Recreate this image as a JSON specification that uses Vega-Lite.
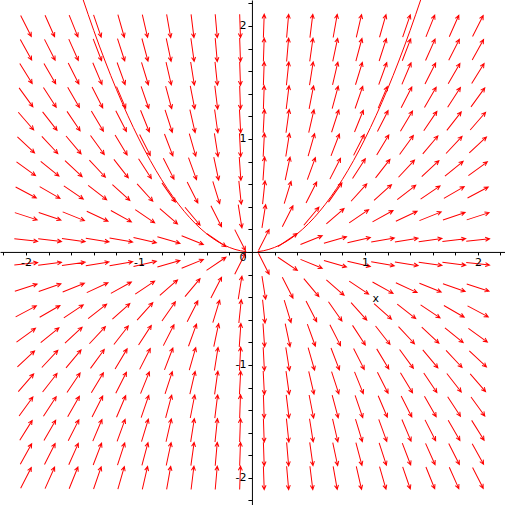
{
"$schema": "https://vega.github.io/schema/vega-lite/v6.json",
"width": 505, "height": 505, "autosize": "none", "padding": 0,
"background": "white",
"config": {"view": {"stroke": null}},
"datasets": {
"curves": [
{"branch":"L","x":-1.5,"y":2.25},{"branch":"L","x":-1.4,"y":1.96},{"branch":"L","x":-1.3,"y":1.69},{"branch":"L","x":-1.2,"y":1.44},{"branch":"L","x":-1.1,"y":1.21},{"branch":"L","x":-1.0,"y":1.0},{"branch":"L","x":-0.9,"y":0.81},{"branch":"L","x":-0.8,"y":0.64},{"branch":"L","x":-0.7,"y":0.49},{"branch":"L","x":-0.6,"y":0.36},{"branch":"L","x":-0.5,"y":0.25},{"branch":"L","x":-0.4,"y":0.16},{"branch":"L","x":-0.3,"y":0.09},{"branch":"L","x":-0.2,"y":0.04},{"branch":"L","x":-0.1,"y":0.01},{"branch":"L","x":-0.05,"y":0.0025},
{"branch":"R","x":0.05,"y":0.0025},{"branch":"R","x":0.1,"y":0.01},{"branch":"R","x":0.2,"y":0.04},{"branch":"R","x":0.3,"y":0.09},{"branch":"R","x":0.4,"y":0.16},{"branch":"R","x":0.5,"y":0.25},{"branch":"R","x":0.6,"y":0.36},{"branch":"R","x":0.7,"y":0.49},{"branch":"R","x":0.8,"y":0.64},{"branch":"R","x":0.9,"y":0.81},{"branch":"R","x":1.0,"y":1.0},{"branch":"R","x":1.1,"y":1.21},{"branch":"R","x":1.2,"y":1.44},{"branch":"R","x":1.3,"y":1.69},{"branch":"R","x":1.4,"y":1.96},{"branch":"R","x":1.5,"y":2.25}
],
"arrows": [
{"x":-2,"y":-2,"a":63},{"x":-2,"y":-1.789,"a":61},{"x":-2,"y":-1.579,"a":58},{"x":-2,"y":-1.368,"a":54},{"x":-2,"y":-1.158,"a":49},{"x":-2,"y":-0.947,"a":43},{"x":-2,"y":-0.737,"a":36},{"x":-2,"y":-0.526,"a":28},{"x":-2,"y":-0.316,"a":18},{"x":-2,"y":-0.105,"a":6},{"x":-2,"y":0.105,"a":-6},{"x":-2,"y":0.316,"a":-18},{"x":-2,"y":0.526,"a":-28},{"x":-2,"y":0.737,"a":-36},{"x":-2,"y":0.947,"a":-43},{"x":-2,"y":1.158,"a":-49},{"x":-2,"y":1.368,"a":-54},{"x":-2,"y":1.579,"a":-58},{"x":-2,"y":1.789,"a":-61},{"x":-2,"y":2,"a":-63},
{"x":-1.789,"y":-2,"a":66},{"x":-1.789,"y":-1.789,"a":63},{"x":-1.789,"y":-1.579,"a":60},{"x":-1.789,"y":-1.368,"a":57},{"x":-1.789,"y":-1.158,"a":52},{"x":-1.789,"y":-0.947,"a":47},{"x":-1.789,"y":-0.737,"a":39},{"x":-1.789,"y":-0.526,"a":30},{"x":-1.789,"y":-0.316,"a":19},{"x":-1.789,"y":-0.105,"a":7},{"x":-1.789,"y":0.105,"a":-7},{"x":-1.789,"y":0.316,"a":-19},{"x":-1.789,"y":0.526,"a":-30},{"x":-1.789,"y":0.737,"a":-39},{"x":-1.789,"y":0.947,"a":-47},{"x":-1.789,"y":1.158,"a":-52},{"x":-1.789,"y":1.368,"a":-57},{"x":-1.789,"y":1.579,"a":-60},{"x":-1.789,"y":1.789,"a":-63},{"x":-1.789,"y":2,"a":-66},
{"x":-1.579,"y":-2,"a":68},{"x":-1.579,"y":-1.789,"a":66},{"x":-1.579,"y":-1.579,"a":63},{"x":-1.579,"y":-1.368,"a":60},{"x":-1.579,"y":-1.158,"a":56},{"x":-1.579,"y":-0.947,"a":50},{"x":-1.579,"y":-0.737,"a":43},{"x":-1.579,"y":-0.526,"a":34},{"x":-1.579,"y":-0.316,"a":22},{"x":-1.579,"y":-0.105,"a":8},{"x":-1.579,"y":0.105,"a":-8},{"x":-1.579,"y":0.316,"a":-22},{"x":-1.579,"y":0.526,"a":-34},{"x":-1.579,"y":0.737,"a":-43},{"x":-1.579,"y":0.947,"a":-50},{"x":-1.579,"y":1.158,"a":-56},{"x":-1.579,"y":1.368,"a":-60},{"x":-1.579,"y":1.579,"a":-63},{"x":-1.579,"y":1.789,"a":-66},{"x":-1.579,"y":2,"a":-68},
{"x":-1.368,"y":-2,"a":71},{"x":-1.368,"y":-1.789,"a":69},{"x":-1.368,"y":-1.579,"a":67},{"x":-1.368,"y":-1.368,"a":63},{"x":-1.368,"y":-1.158,"a":59},{"x":-1.368,"y":-0.947,"a":54},{"x":-1.368,"y":-0.737,"a":47},{"x":-1.368,"y":-0.526,"a":38},{"x":-1.368,"y":-0.316,"a":25},{"x":-1.368,"y":-0.105,"a":9},{"x":-1.368,"y":0.105,"a":-9},{"x":-1.368,"y":0.316,"a":-25},{"x":-1.368,"y":0.526,"a":-38},{"x":-1.368,"y":0.737,"a":-47},{"x":-1.368,"y":0.947,"a":-54},{"x":-1.368,"y":1.158,"a":-59},{"x":-1.368,"y":1.368,"a":-63},{"x":-1.368,"y":1.579,"a":-67},{"x":-1.368,"y":1.789,"a":-69},{"x":-1.368,"y":2,"a":-71},
{"x":-1.158,"y":-2,"a":74},{"x":-1.158,"y":-1.789,"a":72},{"x":-1.158,"y":-1.579,"a":70},{"x":-1.158,"y":-1.368,"a":67},{"x":-1.158,"y":-1.158,"a":63},{"x":-1.158,"y":-0.947,"a":59},{"x":-1.158,"y":-0.737,"a":52},{"x":-1.158,"y":-0.526,"a":42},{"x":-1.158,"y":-0.316,"a":29},{"x":-1.158,"y":-0.105,"a":10},{"x":-1.158,"y":0.105,"a":-10},{"x":-1.158,"y":0.316,"a":-29},{"x":-1.158,"y":0.526,"a":-42},{"x":-1.158,"y":0.737,"a":-52},{"x":-1.158,"y":0.947,"a":-59},{"x":-1.158,"y":1.158,"a":-63},{"x":-1.158,"y":1.368,"a":-67},{"x":-1.158,"y":1.579,"a":-70},{"x":-1.158,"y":1.789,"a":-72},{"x":-1.158,"y":2,"a":-74},
{"x":-0.947,"y":-2,"a":77},{"x":-0.947,"y":-1.789,"a":75},{"x":-0.947,"y":-1.579,"a":73},{"x":-0.947,"y":-1.368,"a":71},{"x":-0.947,"y":-1.158,"a":68},{"x":-0.947,"y":-0.947,"a":63},{"x":-0.947,"y":-0.737,"a":57},{"x":-0.947,"y":-0.526,"a":48},{"x":-0.947,"y":-0.316,"a":34},{"x":-0.947,"y":-0.105,"a":13},{"x":-0.947,"y":0.105,"a":-13},{"x":-0.947,"y":0.316,"a":-34},{"x":-0.947,"y":0.526,"a":-48},{"x":-0.947,"y":0.737,"a":-57},{"x":-0.947,"y":0.947,"a":-63},{"x":-0.947,"y":1.158,"a":-68},{"x":-0.947,"y":1.368,"a":-71},{"x":-0.947,"y":1.579,"a":-73},{"x":-0.947,"y":1.789,"a":-75},{"x":-0.947,"y":2,"a":-77},
{"x":-0.737,"y":-2,"a":80},{"x":-0.737,"y":-1.789,"a":78},{"x":-0.737,"y":-1.579,"a":77},{"x":-0.737,"y":-1.368,"a":75},{"x":-0.737,"y":-1.158,"a":72},{"x":-0.737,"y":-0.947,"a":69},{"x":-0.737,"y":-0.737,"a":63},{"x":-0.737,"y":-0.526,"a":55},{"x":-0.737,"y":-0.316,"a":41},{"x":-0.737,"y":-0.105,"a":16},{"x":-0.737,"y":0.105,"a":-16},{"x":-0.737,"y":0.316,"a":-41},{"x":-0.737,"y":0.526,"a":-55},{"x":-0.737,"y":0.737,"a":-63},{"x":-0.737,"y":0.947,"a":-69},{"x":-0.737,"y":1.158,"a":-72},{"x":-0.737,"y":1.368,"a":-75},{"x":-0.737,"y":1.579,"a":-77},{"x":-0.737,"y":1.789,"a":-78},{"x":-0.737,"y":2,"a":-80},
{"x":-0.526,"y":-2,"a":83},{"x":-0.526,"y":-1.789,"a":82},{"x":-0.526,"y":-1.579,"a":81},{"x":-0.526,"y":-1.368,"a":79},{"x":-0.526,"y":-1.158,"a":77},{"x":-0.526,"y":-0.947,"a":74},{"x":-0.526,"y":-0.737,"a":70},{"x":-0.526,"y":-0.526,"a":63},{"x":-0.526,"y":-0.316,"a":50},{"x":-0.526,"y":-0.105,"a":22},{"x":-0.526,"y":0.105,"a":-22},{"x":-0.526,"y":0.316,"a":-50},{"x":-0.526,"y":0.526,"a":-63},{"x":-0.526,"y":0.737,"a":-70},{"x":-0.526,"y":0.947,"a":-74},{"x":-0.526,"y":1.158,"a":-77},{"x":-0.526,"y":1.368,"a":-79},{"x":-0.526,"y":1.579,"a":-81},{"x":-0.526,"y":1.789,"a":-82},{"x":-0.526,"y":2,"a":-83},
{"x":-0.316,"y":-2,"a":85},{"x":-0.316,"y":-1.789,"a":85},{"x":-0.316,"y":-1.579,"a":84},{"x":-0.316,"y":-1.368,"a":83},{"x":-0.316,"y":-1.158,"a":82},{"x":-0.316,"y":-0.947,"a":81},{"x":-0.316,"y":-0.737,"a":78},{"x":-0.316,"y":-0.526,"a":73},{"x":-0.316,"y":-0.316,"a":63},{"x":-0.316,"y":-0.105,"a":34},{"x":-0.316,"y":0.105,"a":-34},{"x":-0.316,"y":0.316,"a":-63},{"x":-0.316,"y":0.526,"a":-73},{"x":-0.316,"y":0.737,"a":-78},{"x":-0.316,"y":0.947,"a":-81},{"x":-0.316,"y":1.158,"a":-82},{"x":-0.316,"y":1.368,"a":-83},{"x":-0.316,"y":1.579,"a":-84},{"x":-0.316,"y":1.789,"a":-85},{"x":-0.316,"y":2,"a":-85},
{"x":-0.105,"y":-2,"a":88},{"x":-0.105,"y":-1.789,"a":88},{"x":-0.105,"y":-1.579,"a":88},{"x":-0.105,"y":-1.368,"a":88},{"x":-0.105,"y":-1.158,"a":87},{"x":-0.105,"y":-0.947,"a":87},{"x":-0.105,"y":-0.737,"a":86},{"x":-0.105,"y":-0.526,"a":84},{"x":-0.105,"y":-0.316,"a":81},{"x":-0.105,"y":-0.105,"a":63},{"x":-0.105,"y":0.105,"a":-63},{"x":-0.105,"y":0.316,"a":-81},{"x":-0.105,"y":0.526,"a":-84},{"x":-0.105,"y":0.737,"a":-86},{"x":-0.105,"y":0.947,"a":-87},{"x":-0.105,"y":1.158,"a":-87},{"x":-0.105,"y":1.368,"a":-88},{"x":-0.105,"y":1.579,"a":-88},{"x":-0.105,"y":1.789,"a":-88},{"x":-0.105,"y":2,"a":-88},
{"x":0.105,"y":-2,"a":-88},{"x":0.105,"y":-1.789,"a":-88},{"x":0.105,"y":-1.579,"a":-88},{"x":0.105,"y":-1.368,"a":-88},{"x":0.105,"y":-1.158,"a":-87},{"x":0.105,"y":-0.947,"a":-87},{"x":0.105,"y":-0.737,"a":-86},{"x":0.105,"y":-0.526,"a":-84},{"x":0.105,"y":-0.316,"a":-81},{"x":0.105,"y":-0.105,"a":-63},{"x":0.105,"y":0.105,"a":63},{"x":0.105,"y":0.316,"a":81},{"x":0.105,"y":0.526,"a":84},{"x":0.105,"y":0.737,"a":86},{"x":0.105,"y":0.947,"a":87},{"x":0.105,"y":1.158,"a":87},{"x":0.105,"y":1.368,"a":88},{"x":0.105,"y":1.579,"a":88},{"x":0.105,"y":1.789,"a":88},{"x":0.105,"y":2,"a":88},
{"x":0.316,"y":-2,"a":-85},{"x":0.316,"y":-1.789,"a":-85},{"x":0.316,"y":-1.579,"a":-84},{"x":0.316,"y":-1.368,"a":-83},{"x":0.316,"y":-1.158,"a":-82},{"x":0.316,"y":-0.947,"a":-81},{"x":0.316,"y":-0.737,"a":-78},{"x":0.316,"y":-0.526,"a":-73},{"x":0.316,"y":-0.316,"a":-63},{"x":0.316,"y":-0.105,"a":-34},{"x":0.316,"y":0.105,"a":34},{"x":0.316,"y":0.316,"a":63},{"x":0.316,"y":0.526,"a":73},{"x":0.316,"y":0.737,"a":78},{"x":0.316,"y":0.947,"a":81},{"x":0.316,"y":1.158,"a":82},{"x":0.316,"y":1.368,"a":83},{"x":0.316,"y":1.579,"a":84},{"x":0.316,"y":1.789,"a":85},{"x":0.316,"y":2,"a":85},
{"x":0.526,"y":-2,"a":-83},{"x":0.526,"y":-1.789,"a":-82},{"x":0.526,"y":-1.579,"a":-81},{"x":0.526,"y":-1.368,"a":-79},{"x":0.526,"y":-1.158,"a":-77},{"x":0.526,"y":-0.947,"a":-74},{"x":0.526,"y":-0.737,"a":-70},{"x":0.526,"y":-0.526,"a":-63},{"x":0.526,"y":-0.316,"a":-50},{"x":0.526,"y":-0.105,"a":-22},{"x":0.526,"y":0.105,"a":22},{"x":0.526,"y":0.316,"a":50},{"x":0.526,"y":0.526,"a":63},{"x":0.526,"y":0.737,"a":70},{"x":0.526,"y":0.947,"a":74},{"x":0.526,"y":1.158,"a":77},{"x":0.526,"y":1.368,"a":79},{"x":0.526,"y":1.579,"a":81},{"x":0.526,"y":1.789,"a":82},{"x":0.526,"y":2,"a":83},
{"x":0.737,"y":-2,"a":-80},{"x":0.737,"y":-1.789,"a":-78},{"x":0.737,"y":-1.579,"a":-77},{"x":0.737,"y":-1.368,"a":-75},{"x":0.737,"y":-1.158,"a":-72},{"x":0.737,"y":-0.947,"a":-69},{"x":0.737,"y":-0.737,"a":-63},{"x":0.737,"y":-0.526,"a":-55},{"x":0.737,"y":-0.316,"a":-41},{"x":0.737,"y":-0.105,"a":-16},{"x":0.737,"y":0.105,"a":16},{"x":0.737,"y":0.316,"a":41},{"x":0.737,"y":0.526,"a":55},{"x":0.737,"y":0.737,"a":63},{"x":0.737,"y":0.947,"a":69},{"x":0.737,"y":1.158,"a":72},{"x":0.737,"y":1.368,"a":75},{"x":0.737,"y":1.579,"a":77},{"x":0.737,"y":1.789,"a":78},{"x":0.737,"y":2,"a":80},
{"x":0.947,"y":-2,"a":-77},{"x":0.947,"y":-1.789,"a":-75},{"x":0.947,"y":-1.579,"a":-73},{"x":0.947,"y":-1.368,"a":-71},{"x":0.947,"y":-1.158,"a":-68},{"x":0.947,"y":-0.947,"a":-63},{"x":0.947,"y":-0.737,"a":-57},{"x":0.947,"y":-0.526,"a":-48},{"x":0.947,"y":-0.316,"a":-34},{"x":0.947,"y":-0.105,"a":-13},{"x":0.947,"y":0.105,"a":13},{"x":0.947,"y":0.316,"a":34},{"x":0.947,"y":0.526,"a":48},{"x":0.947,"y":0.737,"a":57},{"x":0.947,"y":0.947,"a":63},{"x":0.947,"y":1.158,"a":68},{"x":0.947,"y":1.368,"a":71},{"x":0.947,"y":1.579,"a":73},{"x":0.947,"y":1.789,"a":75},{"x":0.947,"y":2,"a":77},
{"x":1.158,"y":-2,"a":-74},{"x":1.158,"y":-1.789,"a":-72},{"x":1.158,"y":-1.579,"a":-70},{"x":1.158,"y":-1.368,"a":-67},{"x":1.158,"y":-1.158,"a":-63},{"x":1.158,"y":-0.947,"a":-59},{"x":1.158,"y":-0.737,"a":-52},{"x":1.158,"y":-0.526,"a":-42},{"x":1.158,"y":-0.316,"a":-29},{"x":1.158,"y":-0.105,"a":-10},{"x":1.158,"y":0.105,"a":10},{"x":1.158,"y":0.316,"a":29},{"x":1.158,"y":0.526,"a":42},{"x":1.158,"y":0.737,"a":52},{"x":1.158,"y":0.947,"a":59},{"x":1.158,"y":1.158,"a":63},{"x":1.158,"y":1.368,"a":67},{"x":1.158,"y":1.579,"a":70},{"x":1.158,"y":1.789,"a":72},{"x":1.158,"y":2,"a":74},
{"x":1.368,"y":-2,"a":-71},{"x":1.368,"y":-1.789,"a":-69},{"x":1.368,"y":-1.579,"a":-67},{"x":1.368,"y":-1.368,"a":-63},{"x":1.368,"y":-1.158,"a":-59},{"x":1.368,"y":-0.947,"a":-54},{"x":1.368,"y":-0.737,"a":-47},{"x":1.368,"y":-0.526,"a":-38},{"x":1.368,"y":-0.316,"a":-25},{"x":1.368,"y":-0.105,"a":-9},{"x":1.368,"y":0.105,"a":9},{"x":1.368,"y":0.316,"a":25},{"x":1.368,"y":0.526,"a":38},{"x":1.368,"y":0.737,"a":47},{"x":1.368,"y":0.947,"a":54},{"x":1.368,"y":1.158,"a":59},{"x":1.368,"y":1.368,"a":63},{"x":1.368,"y":1.579,"a":67},{"x":1.368,"y":1.789,"a":69},{"x":1.368,"y":2,"a":71},
{"x":1.579,"y":-2,"a":-68},{"x":1.579,"y":-1.789,"a":-66},{"x":1.579,"y":-1.579,"a":-63},{"x":1.579,"y":-1.368,"a":-60},{"x":1.579,"y":-1.158,"a":-56},{"x":1.579,"y":-0.947,"a":-50},{"x":1.579,"y":-0.737,"a":-43},{"x":1.579,"y":-0.526,"a":-34},{"x":1.579,"y":-0.316,"a":-22},{"x":1.579,"y":-0.105,"a":-8},{"x":1.579,"y":0.105,"a":8},{"x":1.579,"y":0.316,"a":22},{"x":1.579,"y":0.526,"a":34},{"x":1.579,"y":0.737,"a":43},{"x":1.579,"y":0.947,"a":50},{"x":1.579,"y":1.158,"a":56},{"x":1.579,"y":1.368,"a":60},{"x":1.579,"y":1.579,"a":63},{"x":1.579,"y":1.789,"a":66},{"x":1.579,"y":2,"a":68},
{"x":1.789,"y":-2,"a":-66},{"x":1.789,"y":-1.789,"a":-63},{"x":1.789,"y":-1.579,"a":-60},{"x":1.789,"y":-1.368,"a":-57},{"x":1.789,"y":-1.158,"a":-52},{"x":1.789,"y":-0.947,"a":-47},{"x":1.789,"y":-0.737,"a":-39},{"x":1.789,"y":-0.526,"a":-30},{"x":1.789,"y":-0.316,"a":-19},{"x":1.789,"y":-0.105,"a":-7},{"x":1.789,"y":0.105,"a":7},{"x":1.789,"y":0.316,"a":19},{"x":1.789,"y":0.526,"a":30},{"x":1.789,"y":0.737,"a":39},{"x":1.789,"y":0.947,"a":47},{"x":1.789,"y":1.158,"a":52},{"x":1.789,"y":1.368,"a":57},{"x":1.789,"y":1.579,"a":60},{"x":1.789,"y":1.789,"a":63},{"x":1.789,"y":2,"a":66},
{"x":2,"y":-2,"a":-63},{"x":2,"y":-1.789,"a":-61},{"x":2,"y":-1.579,"a":-58},{"x":2,"y":-1.368,"a":-54},{"x":2,"y":-1.158,"a":-49},{"x":2,"y":-0.947,"a":-43},{"x":2,"y":-0.737,"a":-36},{"x":2,"y":-0.526,"a":-28},{"x":2,"y":-0.316,"a":-18},{"x":2,"y":-0.105,"a":-6},{"x":2,"y":0.105,"a":6},{"x":2,"y":0.316,"a":18},{"x":2,"y":0.526,"a":28},{"x":2,"y":0.737,"a":36},{"x":2,"y":0.947,"a":43},{"x":2,"y":1.158,"a":49},{"x":2,"y":1.368,"a":54},{"x":2,"y":1.579,"a":58},{"x":2,"y":1.789,"a":61},{"x":2,"y":2,"a":63}
]
},
"encoding": {
"x": {"field": "x", "type": "quantitative", "scale": {"domain": [-2.23, 2.24], "nice": false, "zero": false},
  "axis": {"orient": "bottom", "offset": -253.07, "title": null, "grid": false, "zindex": 1,
    "values": [-2.2,-2,-1.8,-1.6,-1.4,-1.2,-1,-0.8,-0.6,-0.4,-0.2,0.2,0.4,0.6,0.8,1,1.2,1.4,1.6,1.8,2,2.2],
    "labelExpr": "datum.value % 1 == 0 ? '' + datum.value : ''",
    "domainColor": "black", "domainWidth": 1, "tickColor": "black", "tickWidth": 1, "tickSize": 3,
    "labelPadding": 2, "labelFont": "DejaVu Sans", "labelFontSize": 11, "labelColor": "black",
    "labelFlush": false, "labelOverlap": false, "labelBound": false}},
"y": {"field": "y", "type": "quantitative", "scale": {"domain": [-2.24, 2.23], "nice": false, "zero": false},
  "axis": {"orient": "left", "offset": -251.93, "title": null, "grid": false, "zindex": 1,
    "values": [-2.2,-2,-1.8,-1.6,-1.4,-1.2,-1,-0.8,-0.6,-0.4,-0.2,0,0.2,0.4,0.6,0.8,1,1.2,1.4,1.6,1.8,2,2.2],
    "labelExpr": "datum.value % 1 == 0 ? '' + datum.value : ''",
    "labelBaseline": {"condition": {"test": "datum.value == 0", "value": "top"}, "value": "middle"},
    "domainColor": "black", "domainWidth": 1, "tickColor": "black", "tickWidth": 1, "tickSize": 4,
    "labelPadding": 2, "labelFont": "DejaVu Sans", "labelFontSize": 11, "labelColor": "black",
    "labelFlush": false, "labelOverlap": false, "labelBound": false}}
},
"layer": [
{"data": {"name": "curves"},
 "mark": {"type": "line", "color": "#ff0000", "strokeWidth": 1, "clip": true, "interpolate": "monotone"},
 "encoding": {"detail": {"field": "branch", "type": "nominal"}}},
{"data": {"name": "arrows"},
 "mark": {"type": "point", "shape": "M-1,0L1,0M0.64,-0.17L1,0L0.64,0.17", "filled": false, "color": "#ff0000", "strokeWidth": 1, "size": 550, "opacity": 1},
 "encoding": {"angle": {"field": "a", "type": "quantitative", "scale": {"domain": [-90, 90], "range": [90, -90], "zero": false, "nice": false}, "legend": null}}},
{"data": {"values": [{"label": "x", "x": 1.097, "y": -0.416}]},
 "mark": {"type": "text", "font": "DejaVu Sans", "fontSize": 11, "color": "black", "align": "center", "baseline": "middle"},
 "encoding": {"text": {"field": "label"}}}
]
}
